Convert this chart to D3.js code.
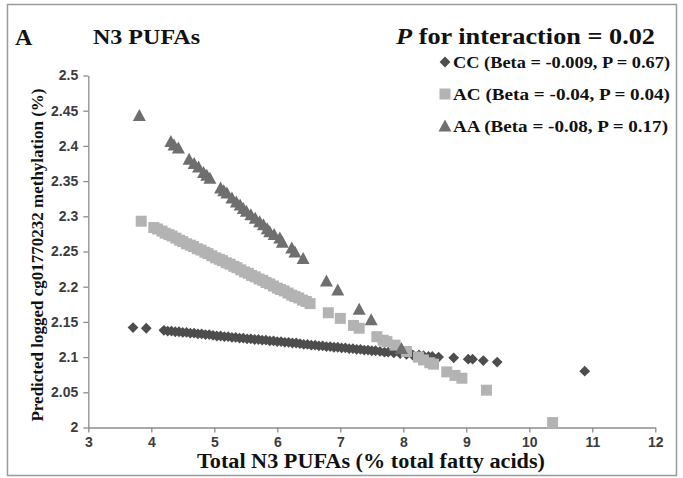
<!DOCTYPE html>
<html>
<head>
<meta charset="utf-8">
<script src="https://cdn.jsdelivr.net/npm/d3@7"></script>
<style>
  body { margin: 0; background: #fff; }
  svg { display: block; }
</style>
</head>
<body>
<svg id="chart" width="683" height="478"></svg>
<script>
// Predicted logged cg01770232 methylation vs total N3 PUFAs, by genotype group
const ccX = [3.71, 3.92, 4.20, 4.26, 4.32, 4.38, 4.44, 4.50, 4.56, 4.62, 4.68, 4.74, 4.80, 4.86, 4.92, 4.98,
  5.04, 5.10, 5.16, 5.22, 5.28, 5.34, 5.40, 5.46, 5.52, 5.58, 5.64, 5.70, 5.76, 5.82, 5.88, 5.94,
  6.00, 6.06, 6.12, 6.18, 6.24, 6.30, 6.36, 6.42, 6.48, 6.54, 6.60, 6.66, 6.72, 6.78, 6.84, 6.90,
  6.96, 7.02, 7.08, 7.14, 7.20, 7.26, 7.32, 7.38, 7.44, 7.50, 7.56, 7.63, 7.70, 7.76, 7.85, 7.95,
  8.05, 8.15, 8.25, 8.32, 8.40, 8.46, 8.56, 8.80, 9.03, 9.10, 9.27, 9.49, 10.88];
const ccY = [2.142, 2.141, 2.138, 2.137, 2.137, 2.136, 2.136, 2.135, 2.135, 2.134, 2.134, 2.133, 2.133, 2.132, 2.132, 2.131,
  2.130, 2.130, 2.129, 2.129, 2.128, 2.128, 2.127, 2.127, 2.126, 2.126, 2.125, 2.125, 2.124, 2.124, 2.123, 2.123,
  2.122, 2.122, 2.121, 2.121, 2.120, 2.120, 2.119, 2.118, 2.118, 2.117, 2.117, 2.116, 2.116, 2.115, 2.115, 2.114,
  2.114, 2.113, 2.113, 2.112, 2.112, 2.111, 2.111, 2.110, 2.110, 2.109, 2.109, 2.108, 2.107, 2.107, 2.106, 2.105,
  2.104, 2.103, 2.103, 2.102, 2.101, 2.101, 2.100, 2.099, 2.097, 2.097, 2.095, 2.093, 2.080];

const acX = [3.84, 4.04, 4.10, 4.17, 4.22, 4.28, 4.33, 4.39, 4.45, 4.50, 4.56, 4.62, 4.67, 4.73, 4.79, 4.85,
  4.90, 4.96, 5.02, 5.08, 5.13, 5.19, 5.25, 5.31, 5.36, 5.42, 5.48, 5.54, 5.59, 5.65, 5.71, 5.77,
  5.82, 5.88, 5.94, 6.00, 6.05, 6.11, 6.17, 6.23, 6.28, 6.34, 6.40, 6.46, 6.52, 6.81, 7.00, 7.21,
  7.30, 7.58, 7.68, 7.74, 7.87, 8.05, 8.24, 8.32, 8.42, 8.48, 8.69, 8.82, 8.93, 9.32, 10.37];
const acY = [2.293, 2.284, 2.282, 2.279, 2.276, 2.274, 2.272, 2.269, 2.266, 2.264, 2.261, 2.259, 2.257, 2.254, 2.252, 2.249,
  2.247, 2.244, 2.241, 2.239, 2.237, 2.234, 2.232, 2.229, 2.227, 2.224, 2.221, 2.219, 2.216, 2.214, 2.211, 2.209,
  2.206, 2.204, 2.201, 2.198, 2.196, 2.194, 2.191, 2.188, 2.186, 2.184, 2.181, 2.179, 2.176, 2.163, 2.155, 2.145,
  2.141, 2.129, 2.124, 2.122, 2.117, 2.108, 2.100, 2.096, 2.092, 2.090, 2.079, 2.074, 2.070, 2.053, 2.007];

const aaX = [3.81, 4.31, 4.36, 4.43, 4.60, 4.68, 4.75, 4.83, 4.88, 4.93, 5.10, 5.15, 5.20, 5.28, 5.35, 5.41,
  5.46, 5.51, 5.58, 5.65, 5.72, 5.78, 5.84, 5.88, 5.95, 6.04, 6.08, 6.23, 6.28, 6.41, 6.78, 6.96,
  7.30, 7.49, 7.97];
const aaY = [2.443, 2.406, 2.401, 2.397, 2.381, 2.375, 2.370, 2.362, 2.358, 2.354, 2.340, 2.336, 2.333, 2.326, 2.320, 2.316,
  2.311, 2.307, 2.302, 2.297, 2.292, 2.288, 2.282, 2.278, 2.274, 2.269, 2.263, 2.255, 2.249, 2.240, 2.208, 2.195,
  2.168, 2.153, 2.112];

const xTicks = [3, 4, 5, 6, 7, 8, 9, 10, 11, 12];
const yTicks = [2, 2.05, 2.1, 2.15, 2.2, 2.25, 2.3, 2.35, 2.4, 2.45, 2.5];
const yTickLabels = ["2", "2.05", "2.1", "2.15", "2.2", "2.25", "2.3", "2.35", "2.4", "2.45", "2.5"];

const seriesNames = ["CC (Beta = -0.009, P = 0.67)", "AC (Beta = -0.04, P = 0.04)", "AA (Beta = -0.08, P = 0.17)"];
const seriesColors = ["#4d4d4d", "#b3b3b3", "#6f6f6f"];

const svg = d3.select("#chart");
const serif = "'Liberation Serif', 'Times New Roman', serif";
const tickFont = "'Liberation Sans', Arial, sans-serif";

// outer frame
svg.append("rect")
  .attr("x", 7.5).attr("y", 4.5).attr("width", 669).attr("height", 471)
  .attr("fill", "none").attr("stroke", "#9a9a9a").attr("stroke-width", 1.5);

const x = d3.scaleLinear().domain([3, 12]).range([88.3, 655.3]);
const y = d3.scaleLinear().domain([2, 2.5]).range([427.5, 75.5]);

// axes
const xAxis = svg.append("g")
  .attr("transform", `translate(0,${y(2)})`)
  .call(d3.axisBottom(x).tickValues(xTicks).tickSize(5).tickSizeOuter(0).tickPadding(5).tickFormat(d3.format("d")));
const yAxis = svg.append("g")
  .attr("transform", `translate(${x(3)},0)`)
  .call(d3.axisLeft(y).tickValues(yTicks).tickSize(5).tickSizeOuter(0).tickPadding(5)
    .tickFormat((d, i) => yTickLabels[i]));

[xAxis, yAxis].forEach(g => {
  g.attr("font-family", null).attr("font-size", null);
  g.select(".domain").attr("stroke", "#8c8c8c").attr("stroke-width", 1.3);
  g.selectAll(".tick line").attr("stroke", "#8c8c8c").attr("stroke-width", 1.3);
  g.selectAll(".tick text")
    .attr("fill", "#3c3c3c")
    .attr("font-family", tickFont)
    .attr("font-weight", 700)
    .attr("font-size", 14);
});

// marker shapes
const diamond = r => `M0,${-r}L${r},0L0,${r}L${-r},0Z`;
const square = s => `M${-s / 2},${-s / 2}h${s}v${s}h${-s}Z`;
const triangle = (w, h) => `M0,${-h * 0.55}L${w / 2},${h * 0.45}L${-w / 2},${h * 0.45}Z`;
const markerPaths = [diamond(5.4), square(11), triangle(13, 12)];

const series = [
  d3.zip(ccX, ccY),
  d3.zip(acX, acY),
  d3.zip(aaX, aaY)
];

series.forEach((pts, i) => {
  svg.append("g").selectAll("path")
    .data(pts)
    .join("path")
    .attr("d", markerPaths[i])
    .attr("transform", d => `translate(${x(d[0])},${y(d[1])})`)
    .attr("fill", seriesColors[i]);
});

// bold serif text helper with a fixed drawn width
function serifText(px, py, size, width, txt) {
  const t = svg.append("text").attr("x", px).attr("y", py)
    .style("font-family", serif).style("font-weight", "bold").style("font-size", size + "px")
    .attr("fill", "#111");
  if (width) t.attr("textLength", width).attr("lengthAdjust", "spacingAndGlyphs");
  if (txt) t.text(txt);
  return t;
}

// titles
serifText(15, 45, 24, 0, "A");
serifText(93, 44, 22, 107, "N3 PUFAs");
const pTxt = serifText(396, 44, 23, 259, null);
pTxt.append("tspan").style("font-style", "italic").text("P");
pTxt.append("tspan").text(" for interaction = 0.02");

// legend
const legendY = [62, 94, 126];
const legendW = [217, 217, 215];
seriesNames.forEach((name, i) => {
  svg.append("path")
    .attr("d", markerPaths[i])
    .attr("transform", `translate(445,${legendY[i]})`)
    .attr("fill", seriesColors[i]);
  serifText(453, legendY[i] + 6, 17, legendW[i], name);
});

// axis titles
serifText(197, 468, 20, 348, "Total N3 PUFAs (% total fatty acids)");

svg.append("text")
  .attr("transform", `translate(43,${y(2.245)}) rotate(-90)`)
  .attr("text-anchor", "middle")
  .style("font-family", serif).style("font-weight", "bold").style("font-size", "17px")
  .attr("fill", "#111").text("Predicted logged cg01770232 methylation (%)");
</script>
</body>
</html>
